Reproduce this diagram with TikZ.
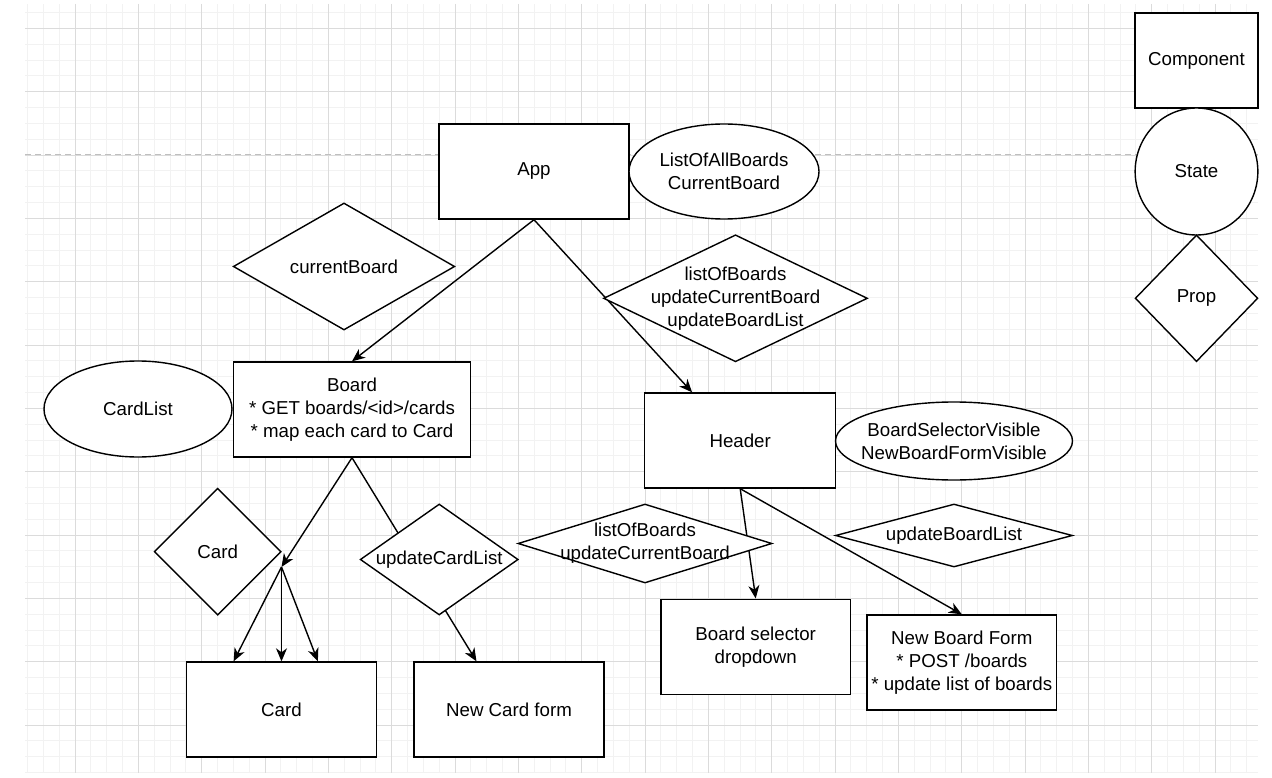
\documentclass[tikz,border=0pt]{standalone}
\usepackage{fontspec}
\setmainfont{Liberation Sans}
\usetikzlibrary{shapes.geometric,arrows.meta,calc}

\tikzset{
  comp/.style={draw, fill=white, rectangle},
  stateoval/.style={draw, fill=white, ellipse},
  propdiam/.style={draw, fill=white, diamond},
  narrowtext/.style={inner xsep=-30pt},
  minorline/.style={black!5, line width=0.8pt},
  majorline/.style={black!14, line width=0.8pt}
}

\begin{document}
\begin{tikzpicture}[x=1pt, y=-1pt, line width=1.4pt,
  >={Stealth[length=13pt,width=11pt,inset=4pt]},
  every node/.style={font=\fontsize{18.7}{23}\selectfont, align=center, inner sep=0pt}]
  \useasboundingbox (0,0) rectangle (1272,778);

  \begin{scope}
    \clip (25,4) rectangle (1258,773);
    \foreach \i in {0,...,77} \draw[minorline] ({27.5+15.833*\i},4) -- ({27.5+15.833*\i},773);
    \foreach \i in {0,...,48} \draw[minorline] (25,{12.5+15.833*\i}) -- (1258,{12.5+15.833*\i});
    \foreach \i in {0,...,18} \draw[majorline] ({75+63.333*\i},4) -- ({75+63.333*\i},773);
    \foreach \i in {0,...,11} \draw[majorline] (25,{28.333+63.333*\i}) -- (1258,{28.333+63.333*\i});
  \end{scope}
  \draw[black!25, line width=1pt, dash pattern=on 6pt off 4pt] (25,155) -- (1258,155);

  \node[comp, minimum width=190, minimum height=95] (app) at (534,171.5) {App};
  \node[comp, minimum width=237, minimum height=95] (board) at (352,409.5) {Board\\* GET boards/<id>/cards\\* map each card to Card};
  \node[comp, minimum width=191, minimum height=95] (header) at (740.2,440.5) {Header};
  \node[comp, minimum width=190, minimum height=95] (card) at (281.5,709.5) {Card};
  \node[comp, minimum width=190, minimum height=95] (newcard) at (509,709.5) {New Card form};
  \node[comp, minimum width=189.5, minimum height=95] (selector) at (755.7,646.7) {Board selector\\dropdown};
  \node[comp, minimum width=189.5, minimum height=95] (newboard) at (961.8,662.5) {New Board Form\\* POST /boards\\* update list of boards};
  \node[comp, minimum width=122.7, minimum height=95] (legendcomp) at (1196.5,60.7) {Component};

  \coordinate (cardfork) at (281.5,567);

  \draw[->] (app.south) -- (board.north);
  \draw[->] (app.south) -- ($(header.north west)!0.25!(header.north east)$);
  \draw[->] (board.south) -- (cardfork);
  \draw[->] (cardfork) -- ($(card.north west)!0.25!(card.north east)$);
  \draw[->] (cardfork) -- (card.north);
  \draw[->] (cardfork) -- ($(card.north west)!0.69!(card.north east)$);
  \draw[->] (board.south) -- ($(newcard.north west)!0.33!(newcard.north east)$);
  \draw[->] (header.south) -- (selector.north);
  \draw[->] (header.south) -- (newboard.north);

  \node[stateoval, minimum width=190, minimum height=95] (appstate) at (724,171.5) {ListOfAllBoards\\CurrentBoard};
  \node[stateoval, minimum width=188, minimum height=96] (boardstate) at (138,409) {CardList};
  \node[stateoval, inner xsep=-15pt, minimum width=237, minimum height=78] (headerstate) at (954,441) {BoardSelectorVisible\\NewBoardFormVisible};
  \node[stateoval, minimum width=122.7, minimum height=127] (legendstate) at (1196.5,171.5) {State};

  \node[propdiam, shape aspect=1.74, minimum width=221.5, minimum height=127] (boardprop) at (344,266.5) {currentBoard};
  \node[propdiam, narrowtext, shape aspect=2.08, minimum width=264, minimum height=127] (headerprop) at (735.5,298.3) {listOfBoards\\updateCurrentBoard\\updateBoardList};
  \node[propdiam, minimum width=127, minimum height=127] (cardprop) at (217.7,551.7) {Card};
  \node[propdiam, shape aspect=1.42, minimum width=158, minimum height=111] (newcardprop) at (439.2,559.5) {updateCardList};
  \node[propdiam, narrowtext, shape aspect=3.2, minimum width=254, minimum height=79] (selectorprop) at (645,543.5) {listOfBoards\\updateCurrentBoard};
  \node[propdiam, shape aspect=3.76, minimum width=237, minimum height=63] (newboardprop) at (954,535.5) {updateBoardList};
  \node[propdiam, minimum width=122.7, minimum height=126.7] (legendprop) at (1196.5,298.3) {Prop};
\end{tikzpicture}
\end{document}
